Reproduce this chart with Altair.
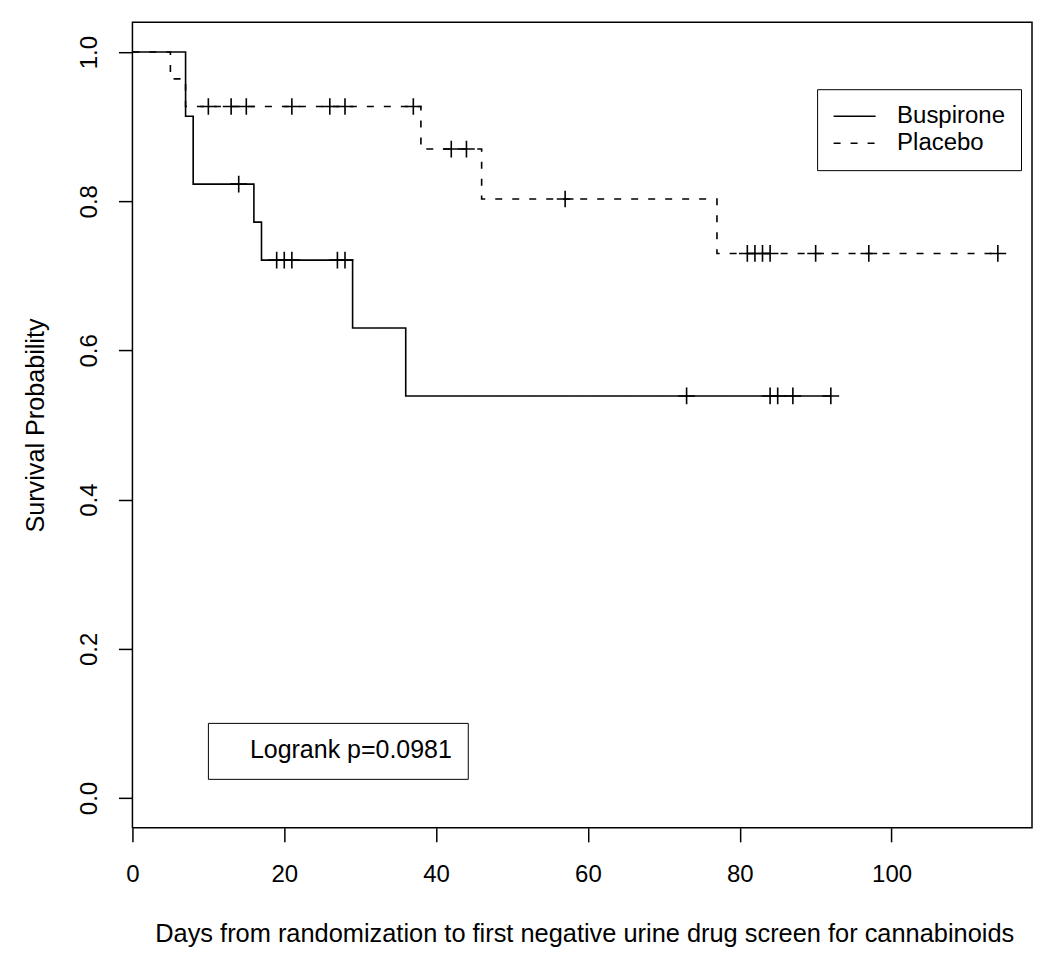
import altair as alt
import pandas as pd

FONT = "Liberation Sans"

# ---- data ----
groups = ["Buspirone", "Placebo"]

busp_times = [0, 7, 8, 16, 17, 29, 36]
busp_surv = [1.0, 0.914, 0.823, 0.772, 0.721, 0.630, 0.539]
busp_last = 92
busp_censor = [14, 19, 20, 21, 27, 28, 73, 84, 85, 87, 92]

plac_times = [0, 5, 7, 38, 46, 77]
plac_surv = [1.0, 0.964, 0.927, 0.870, 0.803, 0.730]
plac_last = 114
plac_censor = [10, 13, 15, 21, 26, 28, 37, 42, 44, 57, 81, 82, 83, 84, 90, 97, 114]

x_ticks = [0, 20, 40, 60, 80, 100]
y_ticks = [0.0, 0.2, 0.4, 0.6, 0.8, 1.0]
pvalue_label = "Logrank p=0.0981"
x_title = "Days from randomization to first negative urine drug screen for cannabinoids"
y_title = "Survival Probability"


def surv_at(t, times, surv):
    s = surv[0]
    for tt, ss in zip(times, surv):
        if tt <= t:
            s = ss
    return s


curve_rows = []
cens_rows = []
for g, times, surv, last, cens in [
    (groups[0], busp_times, busp_surv, busp_last, busp_censor),
    (groups[1], plac_times, plac_surv, plac_last, plac_censor),
]:
    for t, s in zip(times, surv):
        curve_rows.append({"group": g, "time": t, "surv": s})
    curve_rows.append({"group": g, "time": last, "surv": surv[-1]})
    for t in cens:
        cens_rows.append({"group": g, "time": t, "surv": surv_at(t, times, surv),
                          "note": pvalue_label})

curve_df = pd.DataFrame(curve_rows)
cens_df = pd.DataFrame(cens_rows)

x_scale = alt.Scale(domain=[0, 118.5], nice=False, zero=False)
y_scale = alt.Scale(domain=[-0.04, 1.04], nice=False, zero=False)

x_axis = alt.Axis(
    values=x_ticks, format="d", title=x_title, grid=False, domain=False,
    tickSize=14, tickWidth=1.5, tickColor="black", labelFlush=False,
    labelFontSize=24, labelFont=FONT, labelColor="black", labelPadding=21,
    titleFontSize=25.4, titleFont=FONT, titleColor="black", titleFontWeight="normal",
    titleX=452, titleY=114, titleBaseline="alphabetic", titleAlign="center",
)
y_axis = alt.Axis(
    values=y_ticks, format=".1f", title=y_title, grid=False, domain=False,
    tickSize=14, tickWidth=1.5, tickColor="black", labelFlush=False,
    labelFontSize=24, labelFont=FONT, labelColor="black",
    labelAngle=270, labelAlign="center", labelBaseline="alphabetic", labelPadding=22,
    titleFontSize=25.2, titleFont=FONT, titleColor="black", titleFontWeight="normal",
    titleAngle=270, titleX=-89, titleY=403, titleBaseline="alphabetic", titleAlign="center",
)

line = alt.Chart(curve_df).mark_line(
    interpolate="step-after", strokeWidth=1.6, color="black"
).encode(
    x=alt.X("time:Q", scale=x_scale, axis=x_axis),
    y=alt.Y("surv:Q", scale=y_scale, axis=y_axis),
    strokeDash=alt.StrokeDash(
        "group:N",
        scale=alt.Scale(domain=groups, range=[[1, 0], [7, 10]]),
        legend=alt.Legend(
            title=None, orient="none", legendX=685, legendY=67,
            direction="vertical",
            symbolType="M-1,0L3,0", symbolSize=441, symbolStrokeWidth=1.5,
            symbolStrokeColor="black",
            labelFontSize=24, labelFont=FONT, labelColor="black", labelOffset=41,
            labelLimit=400,
            strokeColor="black", fillColor="white", padding=15, rowPadding=3,
        ),
    ),
)

cens = alt.Chart(cens_df).mark_point(
    shape="M-1,0L1,0M0,-1L0,1", size=280, strokeWidth=1.6, color="black",
    filled=False, opacity=1,
).encode(
    x=alt.X("time:Q", scale=x_scale),
    y=alt.Y("surv:Q", scale=y_scale),
    fill=alt.Fill(
        "note:N",
        scale=alt.Scale(range=["transparent"]),
        legend=alt.Legend(
            title=None, orient="none", legendX=75.5, legendY=701,
            symbolOpacity=0, symbolSize=100,
            labelFontSize=25, labelFont=FONT, labelColor="black", labelOffset=2,
            labelLimit=400,
            strokeColor="black", fillColor="white", padding=15,
        ),
    ),
)

chart = alt.layer(line, cens).properties(
    width=900, height=806,
    padding={"left": 124.5, "top": 14, "right": 10, "bottom": 120},
    autosize=alt.AutoSizeParams(type="none"),
    background="white",
).configure(
    font=FONT,
    view=alt.ViewConfig(stroke="black", strokeWidth=1.5),
)

chart.save("out.html", embed_options={"renderer": "svg", "actions": False})
